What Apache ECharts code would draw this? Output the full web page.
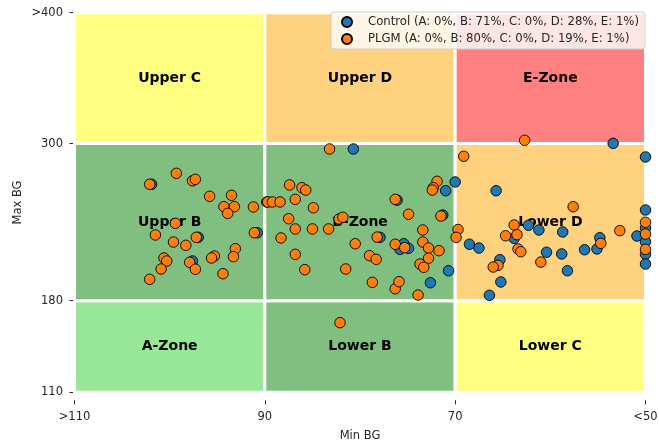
<!DOCTYPE html>
<html>
<head>
<meta charset="utf-8">
<script src="https://cdn.jsdelivr.net/npm/echarts@6/dist/echarts.min.js"></script>
<style>
html,body{margin:0;padding:0;background:#fff;}
#chart{width:659px;height:443px;}
</style>
</head>
<body>
<div id="chart"></div>
<script>
// Tick values and labels
const xTickValues = [110, 90, 70, 50];
const xTickLabels = ['>110', '90', '70', '<50'];
const yTickValues = [110, 180, 300, 400];
const yTickLabels = ['110', '180', '300', '>400'];

// Zones: name, [minBG from, to], [maxBG from, to], colour
const zoneNames = ['A-Zone', 'Lower B', 'Lower C', 'Upper B', 'B-Zone', 'Lower D', 'Upper C', 'Upper D', 'E-Zone'];
const zoneX = [[110, 90], [90, 70], [70, 50], [110, 90], [90, 70], [70, 50], [110, 90], [90, 70], [70, 50]];
const zoneY = [[110, 180], [110, 180], [110, 180], [180, 300], [180, 300], [180, 300], [300, 400], [300, 400], [300, 400]];
const zoneColors = ['#98e698', '#80bf80', '#ffff80', '#80bf80', '#80bf80', '#ffd280', '#ffff80', '#ffd280', '#ff8080'];

// Series: [Min BG, Max BG]
const seriesNames = ['Control (A: 0%, B: 71%, C: 0%, D: 28%, E: 1%)', 'PLGM (A: 0%, B: 80%, C: 0%, D: 19%, E: 1%)'];
const controlPoints = [
  [101.9, 268.9], [97.0, 228.4], [90.8, 231.9], [97.6, 210.3], [80.7, 295.9],
  [77.9, 228.4], [75.4, 223.5], [74.9, 220.0], [75.8, 219.2], [72.6, 193.7],
  [70.7, 202.9], [71.0, 264.0], [70.0, 270.7], [71.3, 245.4], [76.1, 256.8],
  [53.4, 300.2], [50, 289.8], [65.7, 264.0], [50, 249.3], [62.3, 237.6],
  [61.2, 234.0], [58.7, 232.5], [63.8, 227.6], [68.5, 223.1], [67.5, 220.2],
  [60.4, 217.0], [58.8, 215.7], [65.3, 211.3], [58.2, 202.9], [65.2, 194.3],
  [66.4, 184.1], [50.9, 229.4], [54.8, 228.1], [55.1, 219.5], [56.4, 218.9],
  [50, 235.5], [50, 225.0], [50, 215.4], [50, 208.0]
];
const plgmPoints = [
  [102.1, 268.9], [99.3, 277.3], [97.6, 271.6], [97.3, 272.7], [95.8, 259.7],
  [93.5, 260.5], [94.3, 251.8], [93.2, 251.8], [93.9, 246.7], [91.2, 251.6],
  [89.8, 255.4], [99.4, 239.1], [101.5, 230.2], [99.6, 224.8], [98.3, 222.3],
  [97.2, 228.4], [91.1, 231.9], [93.1, 219.7], [93.3, 213.6], [95.3, 214.1],
  [95.6, 212.6], [100.6, 212.6], [100.3, 210.3], [100.9, 204.2], [97.9, 209.3],
  [97.3, 204.0], [94.4, 200.6], [102.1, 196.3],
  [83.2, 295.9], [89.7, 255.4], [89.2, 255.4], [88.4, 255.4], [87.4, 268.4],
  [86.1, 266.3], [85.7, 264.5], [86.8, 257.4], [84.9, 251.0], [87.5, 242.6],
  [86.8, 234.8], [85.0, 234.8], [83.3, 234.8], [82.2, 242.4], [81.8, 243.7],
  [88.3, 227.9], [86.8, 215.4], [85.8, 203.7], [81.5, 204.2], [80.5, 223.5],
  [79.0, 214.4], [78.3, 211.6], [78.2, 228.6], [78.7, 194.0], [76.3, 257.4],
  [74.9, 246.0], [76.3, 189.1], [75.9, 194.5], [76.3, 223.1], [75.3, 220.5],
  [73.9, 184.3], [73.4, 234.0], [73.4, 224.8], [72.8, 220.2], [71.7, 218.2],
  [72.8, 212.4], [73.7, 208.0], [73.3, 205.5], [71.9, 271.2], [72.3, 266.3],
  [72.4, 264.5], [71.5, 244.7], [69.7, 234.4], [69.9, 228.4], [82.1, 163.2],
  [62.7, 302.5], [69.1, 290.3], [57.6, 251.8], [50, 239.9], [63.8, 237.8],
  [64.7, 229.6], [63.5, 230.4], [63.4, 219.5], [63.1, 217.4], [61.0, 209.5],
  [65.5, 207.0], [66.0, 205.7], [52.7, 233.5], [54.7, 223.8], [50, 230.9],
  [50, 219.2]
];
const seriesColors = ['#1f77b4', '#ff7f0e'];

const FONT = 'DejaVu Sans';
const TEXT = '#262626';

const zoneData = zoneNames.map((n, i) => [
  { name: n, xAxis: zoneX[i][0], yAxis: zoneY[i][0], itemStyle: { color: zoneColors[i] } },
  { xAxis: zoneX[i][1], yAxis: zoneY[i][1] }
]);

const chart = echarts.init(document.getElementById('chart'), null, { renderer: 'canvas' });
chart.setOption({
  animation: false,
  textStyle: { fontFamily: FONT },
  grid: { left: 74.5, right: 13.5, top: 12.7, bottom: 50.7, containLabel: false, outerBoundsMode: 'none' },
  legend: {
    data: seriesNames,
    orient: 'vertical',
    right: 14,
    top: 12,
    icon: 'circle',
    itemWidth: 12,
    itemHeight: 10,
    itemGap: 5,
    padding: [4, 6, 4, 10],
    backgroundColor: 'rgba(255,255,255,0.8)',
    borderColor: '#cccccc',
    borderWidth: 1,
    borderRadius: 3,
    textStyle: { fontFamily: FONT, fontSize: 11.7, lineHeight: 12, color: TEXT, padding: [0, 0, 0, 10] }
  },
  xAxis: {
    type: 'value',
    inverse: true,
    min: 50,
    max: 110,
    name: 'Min BG',
    nameLocation: 'middle',
    nameGap: 30,
    nameMoveOverlap: false,
    nameTextStyle: { fontFamily: FONT, fontSize: 11.5, color: TEXT },
    offset: 8,
    axisLine: { show: false },
    axisTick: { show: true, length: 4, customValues: xTickValues, lineStyle: { color: TEXT, width: 1 } },
    axisLabel: {
      show: true, margin: 11, customValues: xTickValues,
      fontFamily: FONT, fontSize: 11.5, color: TEXT,
      formatter: v => xTickLabels[xTickValues.indexOf(v)]
    },
    splitLine: { show: false }
  },
  yAxis: {
    type: 'value',
    min: 110,
    max: 400,
    name: 'Max BG',
    nameLocation: 'middle',
    nameGap: 49,
    nameMoveOverlap: false,
    nameTextStyle: { fontFamily: FONT, fontSize: 11.5, color: TEXT },
    offset: 1.5,
    axisLine: { show: false },
    axisTick: { show: true, length: 3.5, customValues: yTickValues, lineStyle: { color: TEXT, width: 1 } },
    axisLabel: {
      show: true, margin: 10, customValues: yTickValues,
      fontFamily: FONT, fontSize: 11.5, color: TEXT,
      formatter: v => yTickLabels[yTickValues.indexOf(v)]
    },
    splitLine: { show: false }
  },
  series: [
    {
      type: 'scatter',
      name: 'zones',
      data: [],
      z: 1,
      markArea: {
        silent: true,
        itemStyle: { borderColor: '#ffffff', borderWidth: 3 },
        label: {
          show: true, position: 'inside', color: '#000',
          fontFamily: FONT, fontWeight: 'bold', fontSize: 14
        },
        data: zoneData
      }
    },
    {
      type: 'scatter',
      name: seriesNames[0],
      data: controlPoints,
      clip: false,
      z: 3,
      symbol: 'circle',
      symbolSize: 10.5,
      itemStyle: { color: seriesColors[0], borderColor: '#000', borderWidth: 0.9, opacity: 1 }
    },
    {
      type: 'scatter',
      name: seriesNames[1],
      data: plgmPoints,
      clip: false,
      z: 4,
      symbol: 'circle',
      symbolSize: 10.5,
      itemStyle: { color: seriesColors[1], borderColor: '#000', borderWidth: 0.9, opacity: 1 }
    }
  ]
});
</script>
</body>
</html>
